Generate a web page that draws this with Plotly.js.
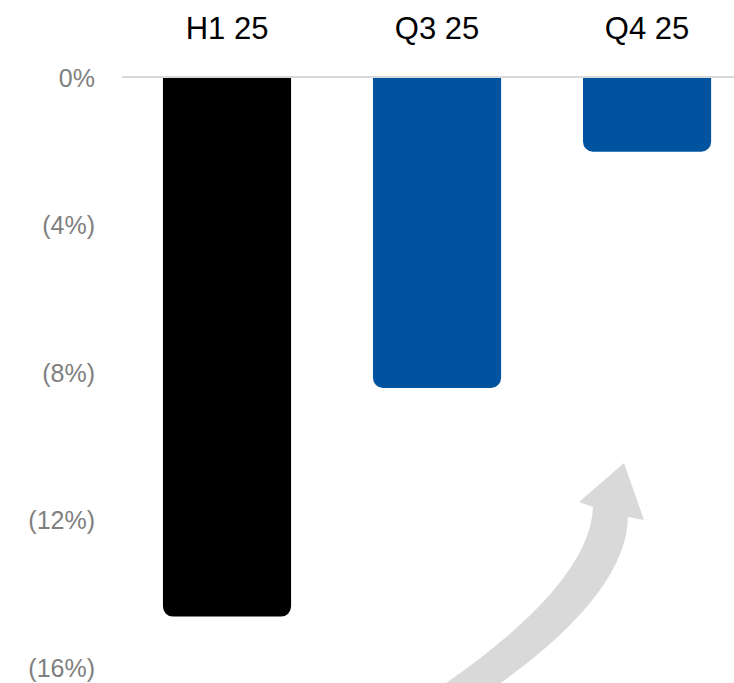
<!DOCTYPE html>
<html>
<head>
<meta charset="utf-8">
<script src="https://cdn.plot.ly/plotly-3.0.1.min.js"></script>
<style>html,body{margin:0;padding:0;background:#fff;}#chart{width:734px;height:683px;}</style>
</head>
<body>
<div id="chart"></div>
<script>
const categories = ["H1 25", "Q3 25", "Q4 25"];
const values = [-14.6, -8.4, -2.0];
const barColors = ["#000000", "#00539E", "#00539E"];
const yTickVals = [0, -4, -8, -12, -16];
const yTickText = ["0%", "(4%)", "(8%)", "(12%)", "(16%)"];

const W = 734, H = 683, ML = 122, MT = 78;
const PW = W - ML, PH = H - MT;
function px(x, y) { return ((x - ML) / PW).toFixed(4) + "," + ((H - y) / PH).toFixed(4); }
const arrowPath = "M" + px(436, 690) + " Q" + px(590, 585) + " " + px(593, 507) +
  " L" + px(579, 502) + " L" + px(624, 463) + " L" + px(644, 520) + " L" + px(628, 517) +
  " Q" + px(626, 600) + " " + px(476, 700) + " Z";

const trace = {
  type: "bar",
  x: categories,
  y: values,
  width: 0.61,
  marker: { color: barColors, cornerradius: 10, line: { width: 0 } },
  hoverinfo: "skip"
};

const layout = {
  width: W, height: H,
  margin: { l: ML, r: 0, t: MT, b: 0, pad: 0 },
  paper_bgcolor: "#ffffff", plot_bgcolor: "rgba(0,0,0,0)",
  showlegend: false,
  font: { family: "Liberation Sans, Arial, sans-serif" },
  xaxis: {
    side: "top", type: "category", range: [-0.5, 2.414],
    showline: true, linecolor: "#d9d9d9", linewidth: 2,
    ticks: "outside", ticklen: 25, tickcolor: "rgba(0,0,0,0)",
    tickfont: { size: 31, color: "#000000" },
    showgrid: false, zeroline: false, fixedrange: true
  },
  yaxis: {
    range: [-16.4, 0], tickvals: yTickVals, ticktext: yTickText,
    showgrid: false, zeroline: false, showline: false,
    ticks: "outside", ticklen: 21, tickcolor: "rgba(0,0,0,0)",
    tickfont: { size: 25, color: "#808080" }, fixedrange: true
  },
  shapes: [{
    type: "path", xref: "paper", yref: "paper", layer: "below",
    path: arrowPath, fillcolor: "#d9d9d9", line: { width: 0 }
  }]
};

Plotly.newPlot("chart", [trace], layout, { displayModeBar: false, staticPlot: true });
</script>
</body>
</html>
